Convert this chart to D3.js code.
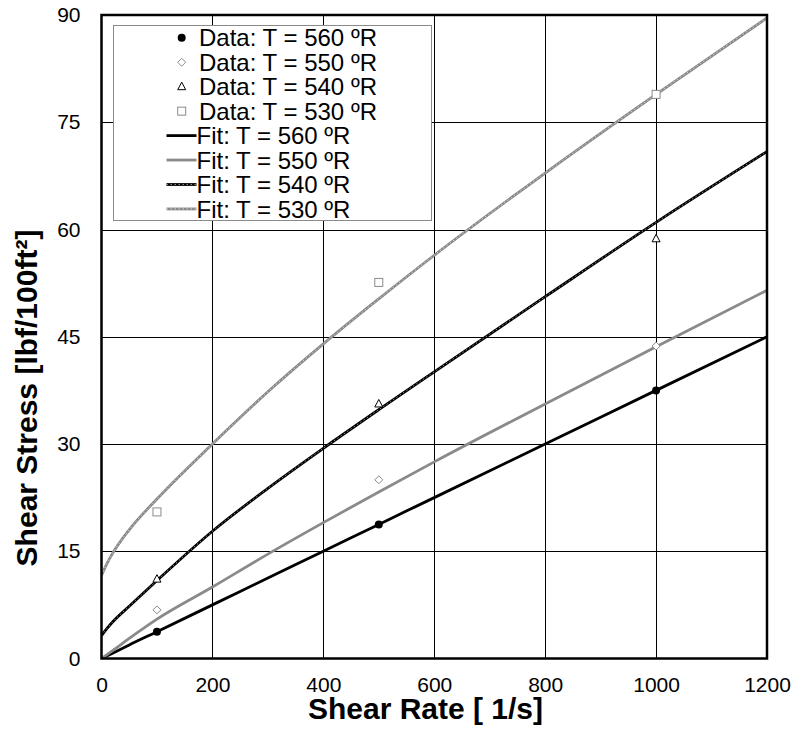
<!DOCTYPE html>
<html>
<head>
<meta charset="utf-8">
<script src="https://cdn.jsdelivr.net/npm/d3@7"></script>
<style>
  body { margin: 0; background: #fff; }
  svg { display: block; font-family: "Liberation Sans", Arial, sans-serif; }
</style>
</head>
<body>
<svg id="chart" width="799" height="730"></svg>
<script>
// ---- data ----
const dataX = [100, 500, 1000];
const data560 = [3.75, 18.75, 37.5];
const data550 = [6.8, 25.0, 43.7];
const data540 = [11.1, 35.6, 58.7];
const data530 = [20.5, 52.6, 78.9];

const fitX   = [0, 10, 20, 50, 100, 200, 300, 400, 500, 600, 800, 1000, 1200];
const fit560 = [0, 0.375, 0.75, 1.9, 3.75, 7.5, 11.25, 15, 18.75, 22.5, 30, 37.5, 45];
const fit550 = [0, 0.55, 1.1, 2.8, 5.5, 10.0, 14.6, 19.0, 23.3, 27.5, 35.6, 43.6, 51.5];
const fit540 = [3.2, 4.2, 5.1, 7.3, 10.9, 17.8, 23.8, 29.4, 34.8, 40.1, 50.6, 61.0, 70.9];
const fit530 = [11.6, 13.3, 14.7, 18.0, 22.3, 30.0, 37.3, 44.0, 50.3, 56.4, 67.9, 78.9, 89.6];

const xTicks = [0, 200, 400, 600, 800, 1000, 1200];
const yTicks = [0, 15, 30, 45, 60, 75, 90];
const legendLabels = ["Data: T = 560 ºR", "Data: T = 550 ºR", "Data: T = 540 ºR", "Data: T = 530 ºR",
                      "Fit: T = 560 ºR", "Fit: T = 550 ºR", "Fit: T = 540 ºR", "Fit: T = 530 ºR"];
const xTitle = "Shear Rate [ 1/s]";
const yTitle = "Shear Stress [lbf/100ft²]";

// ---- layout ----
const L = 101.5, R = 767, T = 15, B = 658.5;
const GRAY = "#8a8a8a", LIGHT = "#d4d4d4";
const svg = d3.select("#chart");
const x = d3.scaleLinear().domain([0, 1200]).range([L, R]);
const y = d3.scaleLinear().domain([0, 90]).range([B, T]);

// gridlines
svg.append("g").selectAll("line").data(xTicks.slice(1, -1)).join("line")
  .attr("x1", d => Math.round(x(d)) + 0.5).attr("x2", d => Math.round(x(d)) + 0.5)
  .attr("y1", T).attr("y2", B).attr("stroke", "#000").attr("stroke-width", 1);
svg.append("g").selectAll("line").data(yTicks.slice(1, -1)).join("line")
  .attr("y1", d => Math.round(y(d)) + 0.5).attr("y2", d => Math.round(y(d)) + 0.5)
  .attr("x1", L).attr("x2", R).attr("stroke", "#000").attr("stroke-width", 1);

// axes labels
const xAxis = d3.axisBottom(x).tickValues(xTicks).tickSize(0).tickPadding(19).tickFormat(d3.format("d"));
const gx = svg.append("g").attr("transform", `translate(0,${B})`).call(xAxis);
gx.select(".domain").remove();
gx.selectAll("text").attr("font-size", 21).attr("fill", "#000").attr("font-family", "Liberation Sans, Arial, sans-serif");

const yAxis = d3.axisLeft(y).tickValues(yTicks).tickSize(0).tickPadding(21).tickFormat(d3.format("d"));
const gy = svg.append("g").attr("transform", `translate(${L},0)`).call(yAxis);
gy.select(".domain").remove();
gy.selectAll("text").attr("font-size", 21).attr("fill", "#000").attr("font-family", "Liberation Sans, Arial, sans-serif");

// fit lines
const line = d3.line().x(d => x(d[0])).y(d => y(d[1])).curve(d3.curveMonotoneX);
const mk = arr => fitX.map((v, i) => [v, arr[i]]);
svg.append("clipPath").attr("id", "clip").append("rect")
  .attr("x", L).attr("y", T).attr("width", R - L).attr("height", B - T);
const gl = svg.append("g").attr("clip-path", "url(#clip)");
const fits = [
  {d: fit560, c: "#000", o: null},
  {d: fit550, c: GRAY, o: null},
  {d: fit540, c: "#000", o: GRAY},
  {d: fit530, c: GRAY, o: LIGHT}
];
fits.forEach(f => {
  gl.append("path").datum(mk(f.d)).attr("d", line).attr("fill", "none")
    .attr("stroke", f.c).attr("stroke-width", 2.8);
  if (f.o) gl.append("path").datum(mk(f.d)).attr("d", line).attr("fill", "none")
    .attr("stroke", f.o).attr("stroke-width", 1).attr("stroke-dasharray", "1.5,2.5");
});

// markers
function marker(g, type, cx, cy) {
  if (type === 0) g.append("circle").attr("cx", cx).attr("cy", cy).attr("r", 4).attr("fill", "#000");
  else if (type === 1) g.append("path").attr("d", `M${cx},${cy-4}L${cx+4},${cy}L${cx},${cy+4}L${cx-4},${cy}Z`)
    .attr("fill", "#fff").attr("stroke", GRAY).attr("stroke-width", 1);
  else if (type === 2) g.append("path").attr("d", `M${cx},${cy-4.5}L${cx+4},${cy+3}L${cx-4},${cy+3}Z`)
    .attr("fill", "#fff").attr("stroke", "#000").attr("stroke-width", 1);
  else g.append("rect").attr("x", cx - 4).attr("y", cy - 4).attr("width", 8).attr("height", 8)
    .attr("fill", "#fff").attr("stroke", GRAY).attr("stroke-width", 1);
}
const gm = svg.append("g");
[data560, data550, data540, data530].forEach((arr, k) => {
  arr.forEach((v, i) => marker(gm, k, x(dataX[i]), y(v)));
});

// frame
svg.append("rect").attr("x", L).attr("y", T).attr("width", R - L).attr("height", B - T)
  .attr("fill", "none").attr("stroke", "#000").attr("stroke-width", 2.5);

// legend
const lg = svg.append("g");
lg.append("rect").attr("x", 113.5).attr("y", 25.5).attr("width", 318).attr("height", 195)
  .attr("fill", "#fff").attr("stroke", GRAY).attr("stroke-width", 1);
legendLabels.forEach((lab, i) => {
  const cy = 37.8 + i * 24.45;
  if (i < 4) {
    marker(lg, i, 181.7, cy);
    lg.append("text").attr("x", 199).attr("y", cy).attr("dy", "0.36em").attr("font-size", 24).text(lab);
  } else {
    const f = fits[i - 4];
    lg.append("line").attr("x1", 166.5).attr("x2", 196.5).attr("y1", cy).attr("y2", cy)
      .attr("stroke", f.c).attr("stroke-width", 2.8);
    if (f.o) lg.append("line").attr("x1", 166.5).attr("x2", 196.5).attr("y1", cy).attr("y2", cy)
      .attr("stroke", f.o).attr("stroke-width", 1).attr("stroke-dasharray", "1.5,2.5");
    lg.append("text").attr("x", 196.5).attr("y", cy).attr("dy", "0.36em").attr("font-size", 24).text(lab);
  }
});

// axis titles
svg.append("text").attr("x", 425.5).attr("y", 719).attr("text-anchor", "middle")
  .attr("font-size", 30).attr("font-weight", "bold").text(xTitle);
svg.append("text").attr("transform", "translate(37,398) rotate(-90)").attr("text-anchor", "middle")
  .attr("font-size", 30).attr("font-weight", "bold").text(yTitle);
</script>
</body>
</html>
